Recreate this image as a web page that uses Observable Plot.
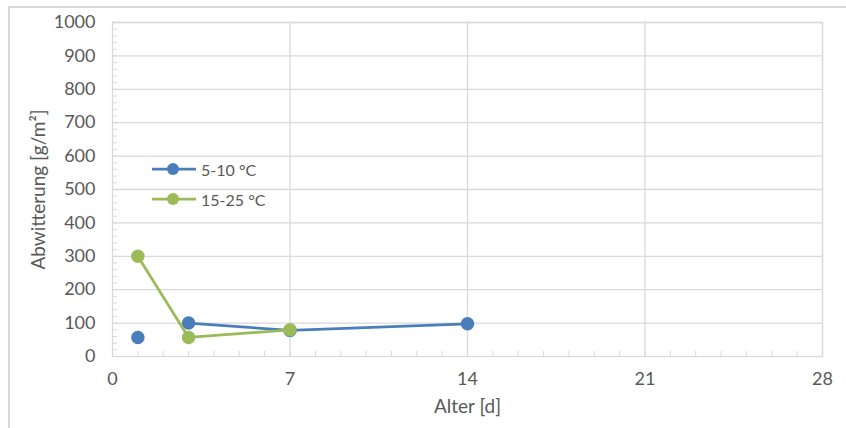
<!DOCTYPE html>
<html>
<head>
<meta charset="utf-8">
<script src="https://cdn.jsdelivr.net/npm/d3@7"></script>
<script src="https://cdn.jsdelivr.net/npm/@observablehq/plot@0.6"></script>
<style>
  html, body { margin: 0; padding: 0; background: #fff; }
  #wrap { position: relative; width: 846px; height: 428px; overflow: hidden; font-family: Lato, "Open Sans", sans-serif; }
  #border { position: absolute; left: 8px; top: 6px; width: 846px; height: 440px; border-top: 2px solid #d9d9d9; border-left: 2px solid #d9d9d9; box-sizing: border-box; }
  #chart { position: absolute; left: 0; top: 0; }
  #legend { position: absolute; left: 152px; top: 154px; font-size: 16px; color: #595959; }
  .item { display: flex; align-items: center; height: 30px; }
  .item svg { margin-right: 5px; }
</style>
</head>
<body>
<div id="wrap">
  <div id="border"></div>
  <div id="chart"></div>
  <div id="legend"></div>
</div>
<script>
const seriesNames = ["5-10 °C", "15-25 °C"];
const seriesColors = ["#4a7ebb", "#9bbb59"];
const blueDays = [1, 3, 7, 14];
const blueValues = [57, 100, 78, 98];
const blueConnected = [false, true, true, true];
const greenDays = [1, 3, 7];
const greenValues = [300, 57, 80];
const greenConnected = [true, true, true];
const xTicks = [0, 7, 14, 21, 28];
const yTicks = [0, 100, 200, 300, 400, 500, 600, 700, 800, 900, 1000];
const xMinor = d3.range(0, 29, 1);
const yMinor = d3.range(0, 1001, 20);

const blueRows = blueDays.map((d, i) => ({series: seriesNames[0], day: d, value: blueValues[i], connected: blueConnected[i]}));
const greenRows = greenDays.map((d, i) => ({series: seriesNames[1], day: d, value: greenValues[i], connected: greenConnected[i]}));

const textFill = "#595959";
const gridColor = "#d9d9d9";

const chart = Plot.plot({
  width: 846,
  height: 428,
  marginLeft: 112,
  marginTop: 22,
  marginRight: 24,
  marginBottom: 72,
  style: {fontFamily: "Lato, 'Open Sans', sans-serif", background: "transparent"},
  x: {domain: [0, 28]},
  y: {domain: [0, 1000]},
  color: {domain: seriesNames, range: seriesColors},
  marks: [
    Plot.gridY(yTicks.slice(1), {stroke: gridColor, strokeOpacity: 1, strokeWidth: 1.3}),
    Plot.gridX(xTicks.slice(1), {stroke: gridColor, strokeOpacity: 1, strokeWidth: 1.3}),
    Plot.frame({stroke: gridColor, strokeWidth: 1.3}),
    Plot.axisY(yMinor, {tickSize: -5, tickFormat: () => "", label: null, stroke: gridColor, strokeOpacity: 1}),
    Plot.axisX(xMinor, {tickSize: -5, tickFormat: () => "", label: null, stroke: gridColor, strokeOpacity: 1}),
    Plot.axisY(yTicks, {tickSize: 0, tickPadding: 17, fontSize: 18, fill: textFill, label: null, tickFormat: d => String(d)}),
    Plot.axisX(xTicks, {tickSize: 0, tickPadding: 16, fontSize: 18, fill: textFill, label: null, tickFormat: d => String(d)}),
    Plot.text(["Alter [d]"], {frameAnchor: "bottom", dy: 56, fontSize: 19, fill: textFill}),
    Plot.text(["Abwitterung [g/m²]"], {frameAnchor: "left", textAnchor: "middle", dx: -74, rotate: -90, fontSize: 19, fill: textFill}),
    Plot.line(blueRows.filter(d => d.connected), {x: "day", y: "value", stroke: "series", strokeWidth: 2.75}),
    Plot.dot(blueRows, {x: "day", y: "value", fill: "series", stroke: "series", r: 6}),
    Plot.line(greenRows.filter(d => d.connected), {x: "day", y: "value", stroke: "series", strokeWidth: 2.75}),
    Plot.dot(greenRows, {x: "day", y: "value", fill: "series", stroke: "series", r: 6})
  ]
});
document.getElementById("chart").appendChild(chart);

const legend = document.getElementById("legend");
seriesNames.forEach((name, i) => {
  const item = document.createElement("div");
  item.className = "item";
  item.innerHTML = `<svg width="44" height="14"><line x1="0" x2="44" y1="7" y2="7" stroke="${seriesColors[i]}" stroke-width="2.75"/><circle cx="21" cy="7" r="6" fill="${seriesColors[i]}"/></svg><span>${name}</span>`;
  legend.appendChild(item);
});
</script>
</body>
</html>
